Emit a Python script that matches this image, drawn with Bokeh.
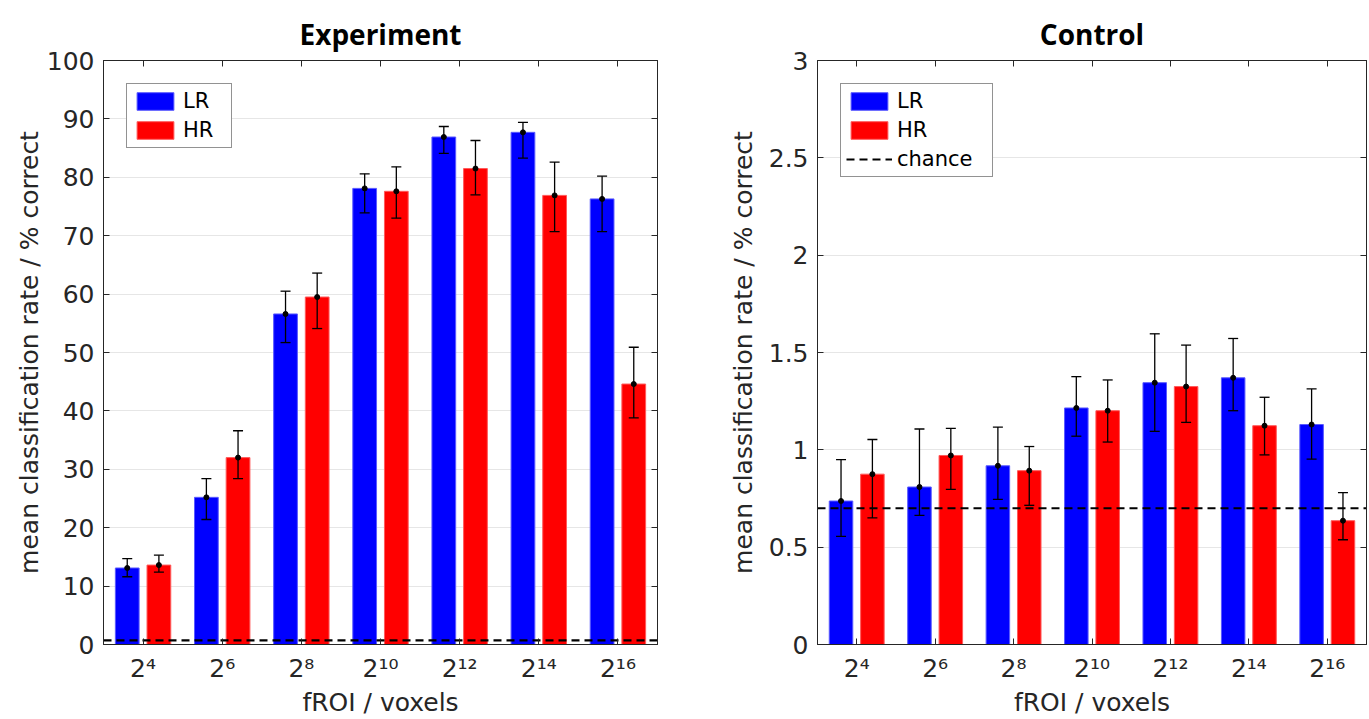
import numpy as np
from bokeh.plotting import figure
from bokeh.models import (ColumnDataSource, Whisker, TeeHead, FixedTicker,
                          LinearAxis, Range1d, NumeralTickFormatter)
from bokeh.layouts import row
from bokeh.embed import file_html
from bokeh.resources import INLINE

# ---------------- data ----------------
groups = [1, 2, 3, 4, 5, 6, 7]
tick_labels = ["2⁴", "2⁶", "2⁸", "2¹⁰", "2¹²", "2¹⁴", "2¹⁶"]
chance = 0.7

exp_lr = [13.1, 25.2, 56.6, 78.1, 86.9, 87.7, 76.3]
exp_lr_lo = [11.6, 21.4, 51.7, 73.9, 84.1, 83.3, 70.7]
exp_lr_hi = [14.7, 28.4, 60.5, 80.6, 88.7, 89.4, 80.2]
exp_hr = [13.6, 32.0, 59.5, 77.6, 81.5, 76.9, 44.6]
exp_hr_lo = [12.4, 28.4, 54.1, 73.0, 77.0, 70.7, 38.8]
exp_hr_hi = [15.3, 36.6, 63.6, 81.8, 86.3, 82.6, 50.9]

ctl_lr = [0.737, 0.809, 0.918, 1.215, 1.345, 1.370, 1.130]
ctl_lr_lo = [0.555, 0.663, 0.746, 1.070, 1.095, 1.201, 0.952]
ctl_lr_hi = [0.950, 1.107, 1.117, 1.376, 1.596, 1.572, 1.313]
ctl_hr = [0.875, 0.971, 0.893, 1.201, 1.325, 1.124, 0.636]
ctl_hr_lo = [0.650, 0.797, 0.715, 1.040, 1.141, 0.974, 0.538]
ctl_hr_hi = [1.053, 1.110, 1.017, 1.359, 1.538, 1.270, 0.780]

exp_yticks = [0, 10, 20, 30, 40, 50, 60, 70, 80, 90, 100]
ctl_yticks = [0, 0.5, 1, 1.5, 2, 2.5, 3]

FONT = "DejaVu Sans"
TFONT = "Open Sans"
DARK = "#262626"
BAR_W = 0.3
OFFSET = 0.2


def panel(title, lr, lr_lo, lr_hi, hr, hr_lo, hr_hi, ymax, yticks,
          chance_in_legend, mb_left, mb_right, fw, ylab_standoff, label_w):
    x_lo, x_hi = 0.5, 7.5
    p = figure(title=title, x_range=Range1d(x_lo, x_hi), y_range=Range1d(0, ymax),
               frame_width=fw, frame_height=584, min_border_left=mb_left,
               min_border_right=mb_right, min_border_top=60, min_border_bottom=75,
               output_backend="svg", toolbar_location=None)
    g = np.array(groups, dtype=float)
    src = ColumnDataSource(dict(
        x_lr=g - OFFSET, x_hr=g + OFFSET,
        lr=lr, lr_lo=lr_lo, lr_hi=lr_hi,
        hr=hr, hr_lo=hr_lo, hr_hi=hr_hi))

    p.vbar(x="x_lr", top="lr", width=BAR_W, source=src, fill_color="#0000ff",
           line_color="#5a5aff", line_width=1, legend_label="LR")
    p.vbar(x="x_hr", top="hr", width=BAR_W, source=src, fill_color="#ff0000",
           line_color="#ff5a5a", line_width=1, legend_label="HR")

    for base, lo, hi in (("x_lr", "lr_lo", "lr_hi"), ("x_hr", "hr_lo", "hr_hi")):
        w = Whisker(base=base, lower=lo, upper=hi, source=src, level="overlay",
                    line_color="black", line_width=1.3,
                    upper_head=TeeHead(size=10, line_color="black", line_width=1.3),
                    lower_head=TeeHead(size=10, line_color="black", line_width=1.3))
        p.add_layout(w)
    p.scatter(x="x_lr", y="lr", source=src, size=5, color="black", level="overlay")
    p.scatter(x="x_hr", y="hr", source=src, size=5, color="black", level="overlay")

    kw = dict(line_color="black", line_width=2.2, line_dash="8 5")
    if chance_in_legend:
        p.line(x=[x_lo, x_hi], y=[chance, chance], legend_label="chance", **kw)
    else:
        p.line(x=[x_lo, x_hi], y=[chance, chance], **kw)

    # axes
    p.xaxis.ticker = FixedTicker(ticks=groups)
    p.xaxis.major_label_overrides = {k: v for k, v in zip(groups, tick_labels)}
    p.yaxis.ticker = FixedTicker(ticks=yticks)
    p.yaxis.formatter = NumeralTickFormatter(format="0.[0]")
    p.xaxis.axis_label = "fROI / voxels"
    p.yaxis.axis_label = "mean classification rate / % correct"
    for ax in (p.xaxis[0], p.yaxis[0]):
        ax.major_tick_in = 6
        ax.major_tick_out = 0
        ax.minor_tick_line_color = None
        ax.axis_line_color = DARK
        ax.major_tick_line_color = DARK
        ax.major_label_text_font = FONT
        ax.major_label_text_font_size = "25px"
        ax.major_label_text_color = DARK
        ax.axis_label_text_font = FONT
        ax.axis_label_text_font_size = "25px"
        ax.axis_label_text_font_style = "normal"
        ax.axis_label_text_color = DARK
    p.xaxis.major_label_standoff = 9
    p.xaxis.axis_label_standoff = 2
    p.yaxis.major_label_standoff = 9
    p.yaxis.axis_label_standoff = ylab_standoff

    top = LinearAxis(ticker=FixedTicker(ticks=groups), major_label_text_font_size="1px",
                     major_label_text_color=None,
                     major_tick_in=6, major_tick_out=0, major_label_standoff=0,
                     minor_tick_line_color=None, axis_line_color=DARK,
                     major_tick_line_color=DARK)
    right = LinearAxis(ticker=FixedTicker(ticks=yticks), major_label_text_font_size="1px",
                       major_label_text_color=None,
                       major_tick_in=6, major_tick_out=0, major_label_standoff=0,
                       minor_tick_line_color=None, axis_line_color=DARK,
                       major_tick_line_color=DARK)
    p.add_layout(top, "above")
    p.add_layout(right, "right")

    p.xgrid.visible = False
    p.ygrid.ticker = FixedTicker(ticks=yticks)
    p.ygrid.grid_line_color = "#e6e6e6"
    p.ygrid.grid_line_width = 1
    p.outline_line_color = DARK
    p.outline_line_alpha = 1.0

    p.title.text_font = TFONT
    p.title.text_font_style = "bold"
    p.title.text_font_size = "28px"
    p.title.text_color = "black"
    p.title.align = "center"
    p.title.vertical_align = "middle"
    p.title.standoff = 14

    leg = p.legend[0]
    leg.location = "top_left"
    leg.margin = 23
    leg.padding = 5
    leg.spacing = 5
    leg.glyph_width = 46
    leg.glyph_height = 22
    leg.label_standoff = 5
    leg.label_width = label_w
    leg.label_text_font = FONT
    leg.label_text_font_size = "21px"
    leg.label_text_color = "black"
    leg.border_line_color = DARK
    leg.border_line_width = 1
    leg.background_fill_alpha = 1.0
    return p


p1 = panel("Experiment", exp_lr, exp_lr_lo, exp_lr_hi, exp_hr, exp_hr_lo, exp_hr_hi,
           100, exp_yticks, False, 103, 57, 554, 0, 43)
p2 = panel("Control", ctl_lr, ctl_lr_lo, ctl_lr_hi, ctl_hr, ctl_hr_lo, ctl_hr_hi,
           3, ctl_yticks, True, 103, 2, 549, 8, 90)

layout = row(p1, p2)
open("out.html", "w").write(file_html(layout, INLINE))
